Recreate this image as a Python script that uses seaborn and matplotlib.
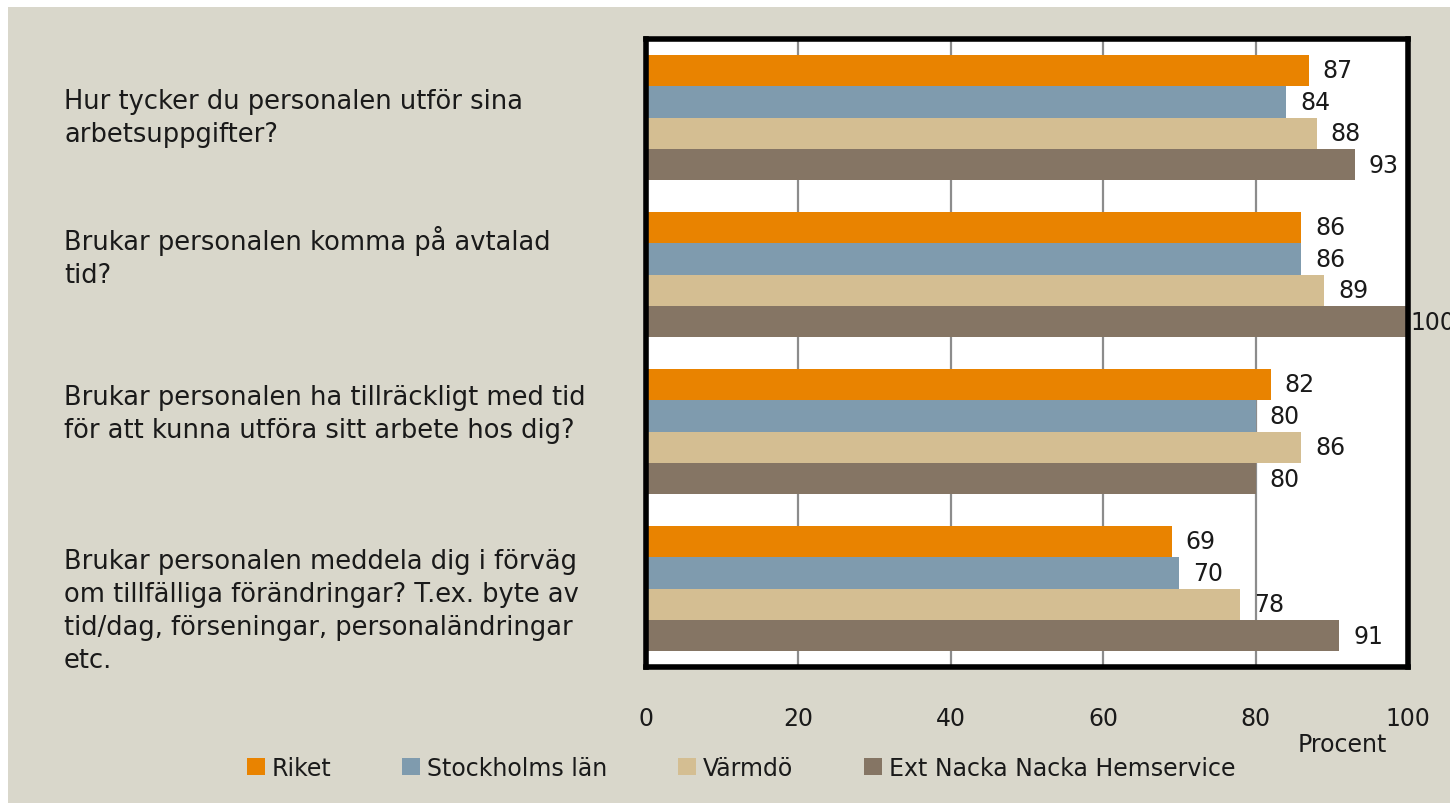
import pandas as pd
import matplotlib.pyplot as plt
import seaborn as sns
from matplotlib.patches import Patch, Rectangle
from matplotlib.transforms import blended_transform_factory, offset_copy

# Data
questions = [
    "Hur tycker du personalen utför sina\narbetsuppgifter?",
    "Brukar personalen komma på avtalad\ntid?",
    "Brukar personalen ha tillräckligt med tid\nför att kunna utföra sitt arbete hos dig?",
    "Brukar personalen meddela dig i förväg\nom tillfälliga förändringar? T.ex. byte av\ntid/dag, förseningar, personaländringar\netc.",
]
series = ["Riket", "Stockholms län", "Värmdö", "Ext Nacka Nacka Hemservice"]
riket = [87, 86, 82, 69]
stockholm = [84, 86, 80, 70]
varmdo = [88, 89, 86, 78]
nacka = [93, 100, 80, 91]
colors = ["#E98300", "#7F9BAE", "#D4BE92", "#857564"]

rows = []
for s, vals in zip(series, [riket, stockholm, varmdo, nacka]):
    for q, v in zip(questions, vals):
        rows.append({"Fråga": q, "Serie": s, "Procent": v})
df = pd.DataFrame(rows)

sns.set_style("white")
plt.rcParams["font.family"] = ["DejaVu Sans"]
FS = 17
TXT = "#1a1a1a"

fig = plt.figure(figsize=(14.5, 8.04), dpi=100, facecolor="white")
# beige panel with thin white margin top/left
fig.patches.append(Rectangle((8 / 1450, 0), 1, 1 - 8 / 804, transform=fig.transFigure,
                             facecolor="#D9D7CB", edgecolor="none", zorder=-10))

ax = fig.add_axes([646 / 1450, 1 - 668 / 804, 762 / 1450, 628 / 804])
sns.barplot(data=df, y="Fråga", x="Procent", hue="Serie", orient="h",
            palette=colors, width=0.8, ax=ax, legend=False, saturation=1,
            linewidth=0, edgecolor="none")
ax.set_facecolor("white")
ax.set_xlim(0, 100)
ax.set_ylim(3.5, -0.5)
ax.set_xticks([0, 20, 40, 60, 80, 100])
ax.tick_params(axis="x", length=0, pad=28, labelsize=FS, colors=TXT)
ax.set_yticks([])
ax.set_ylabel("")
ax.set_xlabel("")
for x in [20, 40, 60, 80]:
    ax.axvline(x, color="#8C8C8C", lw=1.6, zorder=0)
for sp in ax.spines.values():
    sp.set_visible(True)
    sp.set_color("black")
    sp.set_linewidth(4)

for cont in ax.containers:
    labels = ax.bar_label(cont, fmt="%d", padding=10, fontsize=FS, color=TXT, clip_on=False)
    for lab in labels:
        if lab.get_text() == "100":
            lab.xyann = (2, 0)

# question labels, left aligned at the figure edge, nudged like the original
trans = blended_transform_factory(fig.transFigure, ax.transData)
nudge = [0, 13, 13, -16]  # points, positive = up
for i, q in enumerate(questions):
    t = offset_copy(trans, fig=fig, y=nudge[i], units="points")
    ax.text(64 / 1450, i, q, transform=t, ha="left", va="center",
            fontsize=18.5, color=TXT, linespacing=1.35)

fig.text(1342 / 1450, 1 - 745 / 804, "Procent", ha="center", va="center",
         fontsize=FS, color=TXT)

handles = [Patch(facecolor=c, edgecolor="none") for c in colors]
fig.legend(handles, series, loc="center", bbox_to_anchor=(741 / 1450, 1 - 769 / 804),
           ncol=4, frameon=False, fontsize=FS, handlelength=0.75, handleheight=0.75,
           handletextpad=0.3, columnspacing=3.0, labelcolor=TXT)

fig.savefig("out.png", dpi=100, facecolor=fig.get_facecolor())
